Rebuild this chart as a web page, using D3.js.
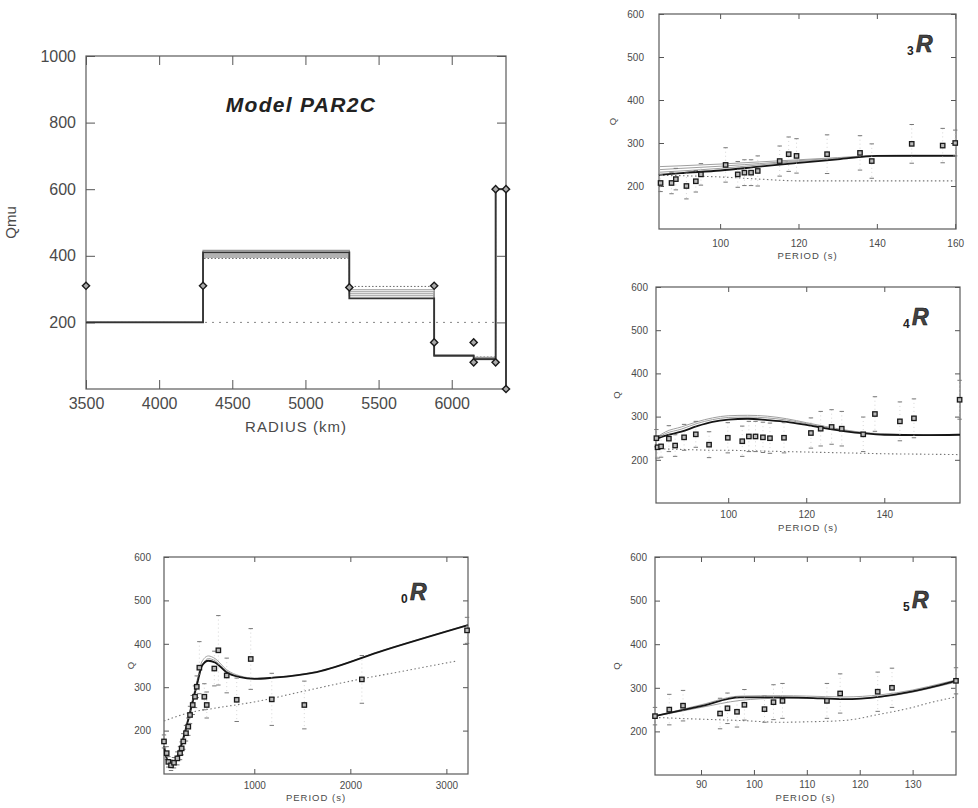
<!DOCTYPE html>
<html>
<head>
<meta charset="utf-8">
<script src="https://cdn.jsdelivr.net/npm/d3@7"></script>
<style>
  body { margin: 0; background: #fff; }
  svg { display: block; }
</style>
</head>
<body>
<svg id="fig" width="978" height="808"></svg>
<script>
// ---- Model PAR2C (Qmu vs radius) ----
const radiusEdges = [3500, 4300, 5300, 5880, 6150, 6300, 6371];
const qmuBest = [200, 410, 272, 100, 90, 600];
const qmuEnsemble = [
  [200, 416, 280, 102, 95, 600],
  [200, 405, 286, 100, 92, 600],
  [200, 400, 292, 98, 88, 600],
  [200, 396, 298, 101, 94, 600]
];
const qmuDotted = [200, 392, 308, 100, 96, 600];
const qmuStart = [200, 200, 200, 200, 200, 200];
const nodeRadius = [3500, 4300, 5300, 5880, 5880, 6150, 6150, 6300, 6300, 6371, 6371];
const nodeQmu = [310, 310, 305, 310, 140, 140, 80, 80, 600, 600, 0];
const radiusTicks = [3500, 4000, 4500, 5000, 5500, 6000];
const qmuTicks = [200, 400, 600, 800, 1000];

// ---- 3R ----
const period3 = [84.8, 87.6, 88.7, 91.4, 93.8, 95.1, 101.4, 104.5, 106.2, 107.9, 109.6, 115.2, 117.5, 119.5, 127.3, 135.7, 138.7, 148.9, 156.8, 160];
const q3 = [207, 207, 216, 200, 211, 227, 249, 227, 231, 231, 235, 258, 274, 270, 274, 277, 258, 298, 294, 300];
const err3 = [20, 25, 25, 30, 25, 25, 40, 30, 30, 30, 35, 35, 40, 40, 45, 40, 40, 45, 40, 30];
const curveP3 = [84.4, 90, 100, 110, 120, 130, 140, 150, 160];
const best3 = [226, 230, 236, 245, 254, 262, 270, 270, 270];
const band3 = [
  [245, 247, 251, 256, 261, 266, 271, 272, 272],
  [238, 241, 246, 252, 259, 265, 270, 271, 271],
  [232, 235, 241, 249, 257, 263, 269, 270, 271]
];
const dotted3 = [225, 224, 221, 216, 212, 212, 212, 212, 212];

// ---- 4R ----
const period4 = [81.6, 81.9, 82.8, 84.8, 86.4, 88.7, 91.7, 95.1, 99.9, 103.6, 105.3, 107, 108.9, 110.7, 114.3, 121.2, 123.7, 126.5, 129.1, 134.6, 137.6, 144, 147.6, 159.3];
const q4 = [250, 229, 231, 249, 233, 252, 259, 235, 251, 243, 254, 254, 252, 250, 251, 262, 272, 276, 272, 259, 306, 289, 296, 339];
const err4 = [20, 25, 25, 30, 25, 30, 30, 30, 35, 35, 35, 35, 35, 35, 35, 35, 40, 40, 40, 40, 40, 45, 45, 45];
const curveP4 = [81.5, 84, 88, 92, 96, 100, 105, 110, 115, 120, 125, 130, 135, 140, 150, 159.4];
const best4 = [248, 256, 265, 278, 288, 293, 295, 292, 288, 281, 273, 266, 261, 258, 257, 258];
const band4 = [
  [251, 265, 276, 288, 297, 302, 303, 301, 295, 286, 277, 269, 263, 260, 258, 259],
  [249, 261, 271, 284, 293, 298, 299, 297, 292, 284, 275, 268, 262, 259, 258, 258]
];
const dotted4 = [226, 225, 224, 223, 222, 222, 221, 220, 219, 218, 217, 216, 215, 214, 213, 212];

// ---- 0R ----
const period0 = [60, 88, 105, 133, 164, 199, 227, 244, 261, 289, 313, 331, 359, 383, 401, 428, 480, 505, 584, 626, 713, 817, 963, 1182, 1521, 2120, 3215];
const q0 = [175, 148, 128, 120, 126, 136, 148, 159, 175, 194, 209, 236, 259, 278, 301, 345, 278, 259, 343, 385, 327, 271, 365, 272, 259, 318, 431];
const err0 = [15, 15, 12, 12, 12, 15, 15, 15, 18, 18, 20, 20, 22, 25, 25, 60, 30, 30, 40, 80, 40, 50, 70, 60, 55, 55, 30];
const curveP0 = [60, 100, 140, 227, 296, 365, 417, 453, 522, 591, 713, 852, 1000, 1200, 1650, 2350, 3225];
const best0 = [164, 128, 120, 157, 211, 273, 319, 349, 361, 357, 334, 323, 319, 322, 335, 385, 443];
const band0 = [
  [168, 132, 123, 162, 217, 280, 327, 358, 372, 366, 340, 326, 321, 323, 336, 386, 444],
  [160, 125, 118, 153, 206, 268, 314, 345, 366, 361, 337, 324, 320, 322, 335, 385, 443]
];
const dottedP0 = [60, 300, 600, 1000, 1500, 2000, 2500, 3100];
const dotted0 = [222, 240, 252, 266, 290, 314, 335, 360];

// ---- 5R ----
const period5 = [81.3, 84, 86.6, 93.6, 95, 96.8, 98.2, 102, 103.7, 105.4, 113.8, 116.3, 123.4, 126.1, 138.2];
const q5 = [235, 250, 259, 241, 253, 245, 261, 251, 267, 270, 270, 287, 291, 300, 316];
const err5 = [20, 35, 35, 35, 35, 35, 35, 30, 40, 40, 40, 45, 45, 45, 30];
const curveP5 = [81.3, 90, 97.4, 105, 110, 117, 124, 130, 133, 138.2];
const best5 = [235, 258, 278, 278, 277, 274, 280, 292, 300, 316];
const band5 = [
  [235, 261, 281, 282, 281, 279, 284, 295, 303, 318],
  [235, 255, 271, 276, 276, 274, 279, 290, 298, 313]
];
const dotted5 = [232, 228, 225, 221, 222, 225, 240, 255, 265, 279];

const svg = d3.select("#fig");
const FONT = "'Liberation Sans', Arial, sans-serif";

function drawPanel(p) {
  const x = d3.scaleLinear().domain(p.xDomain).range([p.left, p.right]);
  const y = d3.scaleLinear().domain(p.yDomain).range([p.bottom, p.top]);
  const g = svg.append("g");

  const styleAxis = sel => {
    sel.attr("font-size", p.fontSize).attr("font-family", FONT);
    sel.select(".domain").remove();
    sel.selectAll("line").attr("stroke", "#555").attr("stroke-width", 1);
    sel.selectAll("text").attr("fill", "#4a4a4a");
  };

  g.append("g").attr("transform", `translate(0,${p.bottom})`)
    .call(d3.axisBottom(x).tickValues(p.xTicks).tickSizeInner(-p.tick).tickSizeOuter(0)
      .tickPadding(p.xPad).tickFormat(d3.format("d")))
    .call(styleAxis);
  g.append("g").attr("transform", `translate(0,${p.top})`)
    .call(d3.axisTop(x).tickValues(p.xTicks).tickSizeInner(-p.tick).tickSizeOuter(0).tickFormat(""))
    .call(styleAxis);
  g.append("g").attr("transform", `translate(${p.left},0)`)
    .call(d3.axisLeft(y).tickValues(p.yTicks).tickSizeInner(-p.tick).tickSizeOuter(0)
      .tickPadding(p.yPad).tickFormat(d3.format("d")))
    .call(styleAxis);
  g.append("g").attr("transform", `translate(${p.right},0)`)
    .call(d3.axisRight(y).tickValues(p.yTicks).tickSizeInner(-p.tick).tickSizeOuter(0).tickFormat(""))
    .call(styleAxis);

  g.append("rect")
    .attr("x", p.left).attr("y", p.top)
    .attr("width", p.right - p.left).attr("height", p.bottom - p.top)
    .attr("fill", "none").attr("stroke", "#5a5a5a").attr("stroke-width", 1.2);

  g.append("text")
    .attr("x", (p.left + p.right) / 2).attr("y", p.xLabelY)
    .attr("text-anchor", "middle").attr("font-family", FONT)
    .attr("font-size", p.labelSize).attr("fill", "#4a4a4a").attr("letter-spacing", 1)
    .text(p.xLabel);

  g.append("text")
    .attr("transform", `translate(${p.yLabelX},${(p.top + p.bottom) / 2}) rotate(-90)`)
    .attr("text-anchor", "middle").attr("font-family", FONT)
    .attr("font-size", p.labelSize).attr("fill", "#4a4a4a")
    .text(p.yLabel);

  return { g, x, y };
}

// mode panels: data squares with error ticks, curves
function drawMode(p, d) {
  const { g, x, y } = drawPanel(p);
  const line = xs => d3.line().x((v, i) => x(xs[i])).y(v => y(v)).curve(d3.curveMonotoneX);

  g.append("path").attr("d", line(d.dottedP || d.curveP)(d.dotted))
    .attr("fill", "none").attr("stroke", "#777").attr("stroke-width", 1.1)
    .attr("stroke-dasharray", "1.5,2.5");
  d.band.forEach(b => {
    g.append("path").attr("d", line(d.curveP)(b))
      .attr("fill", "none").attr("stroke", "#a0a0a0").attr("stroke-width", 1);
  });
  g.append("path").attr("d", line(d.curveP)(d.best))
    .attr("fill", "none").attr("stroke", "#151515").attr("stroke-width", 1.8);

  const pts = d.period.map((t, i) => ({ t, q: d.q[i], e: d.err[i] }));
  const eb = g.append("g").selectAll("g").data(pts).enter().append("g");
  eb.append("line")
    .attr("x1", v => x(v.t)).attr("x2", v => x(v.t))
    .attr("y1", v => y(v.q + v.e)).attr("y2", v => y(v.q - v.e))
    .attr("stroke", "#c4c4c4").attr("stroke-width", 0.7).attr("stroke-dasharray", "1,3");
  [1, -1].forEach(s => {
    eb.append("line")
      .attr("x1", v => x(v.t) - 2.2).attr("x2", v => x(v.t) + 2.2)
      .attr("y1", v => y(v.q + s * v.e)).attr("y2", v => y(v.q + s * v.e))
      .attr("stroke", "#777").attr("stroke-width", 1);
  });
  g.append("g").selectAll("rect").data(pts).enter().append("rect")
    .attr("x", v => x(v.t) - 2.2).attr("y", v => y(v.q) - 2.2)
    .attr("width", 4.4).attr("height", 4.4)
    .attr("fill", "#bbb").attr("stroke", "#1a1a1a").attr("stroke-width", 1.3);

  // mode label: subscript number + bold italic R
  g.append("text").attr("x", p.tagX).attr("y", p.tagY + 3)
    .attr("font-family", FONT).attr("font-weight", "bold")
    .attr("font-size", 12).attr("fill", "#222").text(d.n);
  g.append("text").attr("x", p.tagX + 9).attr("y", p.tagY)
    .attr("font-family", FONT).attr("font-weight", "bold").attr("font-style", "italic")
    .attr("font-size", 23).attr("fill", "#444").attr("stroke", "#111").attr("stroke-width", 0.6)
    .text("R");
}

// ---- model panel ----
(function () {
  const p = {
    left: 86, right: 506, top: 56, bottom: 389,
    xDomain: [3500, 6371], yDomain: [0, 1000],
    xTicks: radiusTicks, yTicks: qmuTicks, tick: 9,
    xPad: 9, yPad: 10, fontSize: 16, labelSize: 15,
    xLabel: "RADIUS (km)", xLabelY: 432, yLabel: "Qmu", yLabelX: 16
  };
  const { g, x, y } = drawPanel(p);

  const steps = q => {
    const pts = q.map((v, i) => [radiusEdges[i], v]);
    pts.push([radiusEdges[radiusEdges.length - 1], q[q.length - 1]]);
    return pts;
  };
  const stepLine = d3.line().x(d => x(d[0])).y(d => y(d[1])).curve(d3.curveStepAfter);

  g.append("path").attr("d", stepLine(steps(qmuStart).slice(0, 6)))
    .attr("fill", "none").attr("stroke", "#888").attr("stroke-width", 1)
    .attr("stroke-dasharray", "2,5");
  g.append("path").attr("d", stepLine(steps(qmuDotted)))
    .attr("fill", "none").attr("stroke", "#666").attr("stroke-width", 1)
    .attr("stroke-dasharray", "1.5,2");
  qmuEnsemble.forEach(q => {
    g.append("path").attr("d", stepLine(steps(q)))
      .attr("fill", "none").attr("stroke", "#999").attr("stroke-width", 1.2);
  });
  const best = steps(qmuBest);
  best.push([radiusEdges[radiusEdges.length - 1], 0]);
  g.append("path").attr("d", stepLine(best))
    .attr("fill", "none").attr("stroke", "#333").attr("stroke-width", 1.8);

  g.append("g").selectAll("path").data(nodeRadius).enter().append("path")
    .attr("transform", (r, i) => `translate(${x(r)},${y(nodeQmu[i])}) rotate(45)`)
    .attr("d", d3.symbol(d3.symbolSquare, 26))
    .attr("fill", "#aaa").attr("stroke", "#1a1a1a").attr("stroke-width", 1.4);

  g.append("text").attr("x", 301).attr("y", 112)
    .attr("text-anchor", "middle").attr("font-family", FONT)
    .attr("font-weight", "bold").attr("font-style", "italic")
    .attr("font-size", 21).attr("letter-spacing", 1.3).attr("fill", "#222")
    .text("Model PAR2C");
})();

const periodTicksY = [200, 300, 400, 500, 600];

drawMode({
  left: 659, right: 956, top: 14, bottom: 229,
  xDomain: [84.4, 160.2], yDomain: [100, 600],
  xTicks: [100, 120, 140, 160], yTicks: periodTicksY, tick: 5,
  xPad: 11, yPad: 15, fontSize: 10, labelSize: 9.5,
  xLabel: "PERIOD (s)", xLabelY: 259, yLabel: "Q", yLabelX: 616,
  tagX: 907, tagY: 52
}, { n: "3", period: period3, q: q3, err: err3, curveP: curveP3, best: best3, band: band3, dotted: dotted3 });

drawMode({
  left: 656, right: 960, top: 287, bottom: 503,
  xDomain: [81.5, 159.4], yDomain: [100, 600],
  xTicks: [100, 120, 140], yTicks: periodTicksY, tick: 5,
  xPad: 8, yPad: 8, fontSize: 10, labelSize: 9.5,
  xLabel: "PERIOD (s)", xLabelY: 531, yLabel: "Q", yLabelX: 620,
  tagX: 903, tagY: 325
}, { n: "4", period: period4, q: q4, err: err4, curveP: curveP4, best: best4, band: band4, dotted: dotted4 });

drawMode({
  left: 164, right: 468, top: 557, bottom: 774,
  xDomain: [60, 3225], yDomain: [100, 600],
  xTicks: [1000, 2000, 3000], yTicks: periodTicksY, tick: 5,
  xPad: 8, yPad: 13, fontSize: 10, labelSize: 9.5,
  xLabel: "PERIOD (s)", xLabelY: 801, yLabel: "Q", yLabelX: 134,
  tagX: 401, tagY: 600
}, { n: "0", period: period0, q: q0, err: err0, curveP: curveP0, best: best0, band: band0, dottedP: dottedP0, dotted: dotted0 });

drawMode({
  left: 655, right: 956, top: 557, bottom: 775,
  xDomain: [81.3, 138.2], yDomain: [100, 600],
  xTicks: [90, 100, 110, 120, 130], yTicks: periodTicksY, tick: 5,
  xPad: 6, yPad: 8, fontSize: 10, labelSize: 9.5,
  xLabel: "PERIOD (s)", xLabelY: 801, yLabel: "Q", yLabelX: 620,
  tagX: 903, tagY: 608
}, { n: "5", period: period5, q: q5, err: err5, curveP: curveP5, best: best5, band: band5, dotted: dotted5 });
</script>
</body>
</html>
